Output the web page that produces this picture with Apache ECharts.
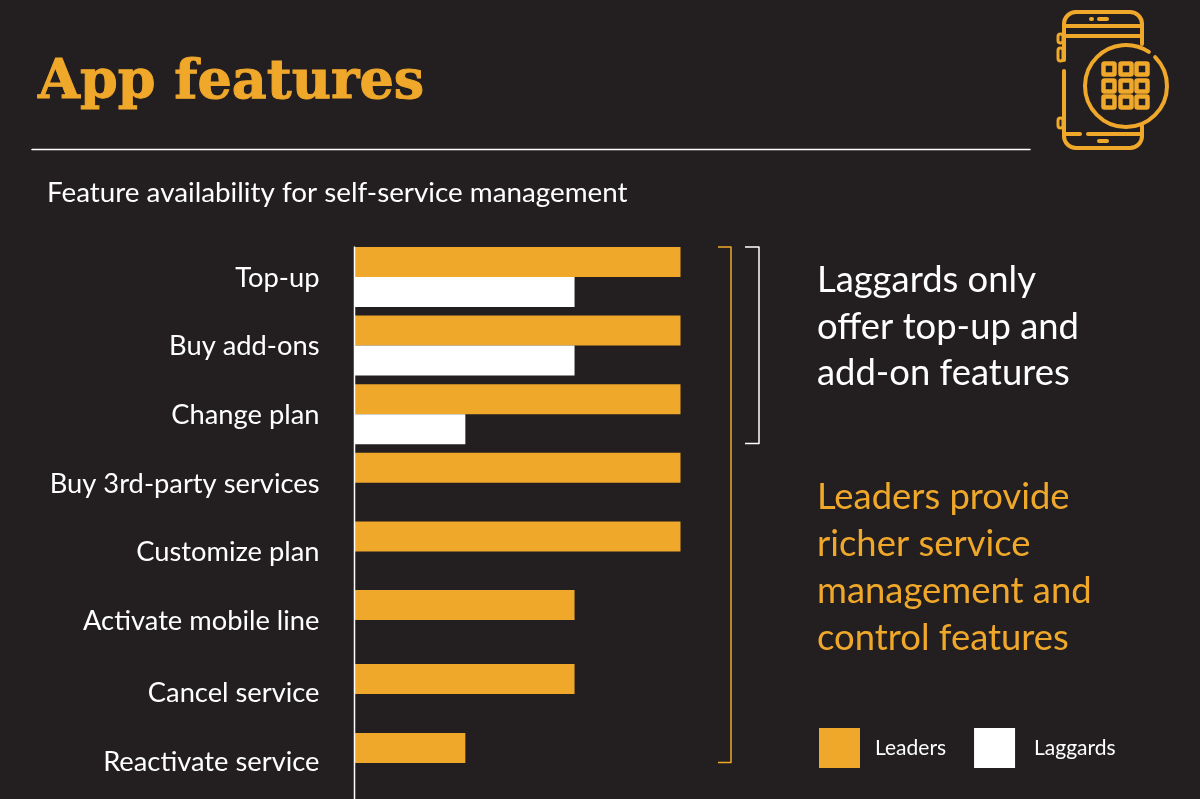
<!DOCTYPE html>
<html><head><meta charset="utf-8">
<style>html,body{margin:0;padding:0;background:#231f20}#c{width:1200px;height:799px}</style>
<script src="https://cdn.jsdelivr.net/npm/echarts@6/dist/echarts.min.js"></script>
</head><body><div id="c"></div>
<script>
// Feature rows split in two groups, as the source spaces the last two rows slightly apart
const categoriesTop = ['Top-up','Buy add-ons','Change plan','Buy 3rd-party services','Customize plan','Activate mobile line'];
const categoriesBottom = ['Cancel service','Reactivate service'];
const leadersTop = [100,100,100,100,100,67.5];
const laggardsTop = [67.5,67.5,34,null,null,null];
const leadersBottom = [67.5,34];
const laggardsBottom = [null,null];

const GOLD='#f0a82b', WHITE='#ffffff', BG='#231f20', FONT='Lato';
const chart=echarts.init(document.getElementById('c'),null,{renderer:'canvas'});

function txt(x,y,t,size,color,extra){return {type:'text',silent:true,style:Object.assign({x,y,text:t,fontFamily:FONT,fontSize:size,fill:color,verticalAlign:'middle'},extra||{})};}
function ln(x1,y1,x2,y2,color,w){return {type:'line',silent:true,z:10,shape:{x1,y1,x2,y2},style:{stroke:color,lineWidth:w||2,lineCap:'round'}};}
function br(points,color,w){return {type:'polyline',silent:true,shape:{points},style:{stroke:color,lineWidth:w,fill:null,lineJoin:'round'}};}
function rr(x,y,w,h,r,lw){return {type:'rect',silent:true,shape:{x,y,width:w,height:h,r},style:{stroke:GOLD,lineWidth:lw||4,fill:null}};}
function arc(cx,cy,r,a,b){return {type:'arc',silent:true,shape:{cx,cy,r,startAngle:a,endAngle:b,clockwise:true},style:{stroke:GOLD,lineWidth:4,fill:null,lineCap:'round'}};}
const P=Math.PI;

const gfx=[
  txt(38,84,'App features',54,GOLD,{fontFamily:'DejaVu Serif',fontWeight:'bold',stroke:GOLD,lineWidth:1}),
  ln(32,149.5,1030,149.5,WHITE,1.5),
  txt(47,193,'Feature availability for self-service management',27.8,WHITE),
  ln(354.5,247,354.5,799,WHITE,1.5),
  br([[718,247],[731,247],[731,762.5],[718,762.5]],GOLD,1.5),
  br([[745,247],[759,247],[759,443.5],[745,443.5]],WHITE,1.5),
  txt(817,280,'Laggards only',36.4,WHITE),
  txt(817,327,'offer top-up and',36.4,WHITE),
  txt(817,373,'add-on features',36.4,WHITE),
  txt(817,497,'Leaders provide',36.4,GOLD),
  txt(817,544,'richer service',36.4,GOLD),
  txt(817,591,'management and',36.4,GOLD),
  txt(817,638,'control features',36.4,GOLD),
  // phone + keypad icon
  ln(1064,24,1064,60,GOLD,4), ln(1064,71,1064,136,GOLD,4),
  ln(1076,12,1130,12,GOLD,4), ln(1076,148,1130,148,GOLD,4),
  ln(1142,24,1142,44,GOLD,4), ln(1142,126,1142,136,GOLD,4),
  arc(1076,24,12,P,1.5*P), arc(1130,24,12,1.5*P,2*P),
  arc(1076,136,12,0.5*P,P), arc(1130,136,12,0,0.5*P),
  ln(1064,26,1140,26,GOLD,4), ln(1064,36,1140,36,GOLD,4),
  ln(1066,134,1080,134,GOLD,4), ln(1088,134,1140,134,GOLD,4),
  ln(1091,19,1092,19,GOLD,4), ln(1099,19,1107,19,GOLD,4), ln(1099,141,1107,141,GOLD,4),
  rr(1058,34,5,9,2.5,3), rr(1058,48,5,13,2.5,3), rr(1058,118,5,10,2.5,3),
  arc(1126,86,41,-0.78,-0.98)
];
[1109,1126,1142].forEach(cx=>[69,86,102].forEach(cy=>gfx.push(rr(cx-5.5,cy-5.5,11,11,1,4.5))));

function yAxis(data,idx,pad){return {type:'category',gridIndex:idx,inverse:true,data,axisLine:{show:false},axisTick:{show:false},splitLine:{show:false},
  axisLabel:{margin:35,formatter:v=>'{t|'+v+'}',rich:{t:{color:WHITE,fontFamily:FONT,fontSize:27.3,lineHeight:30,padding:pad}}}};}
function xAxis(idx){return {type:'value',gridIndex:idx,min:0,max:100,show:false,splitLine:{show:false}};}
function series(name,color,data,idx){return {name,type:'bar',xAxisIndex:idx,yAxisIndex:idx,data,barWidth:30,barGap:0,itemStyle:{color},silent:true,animation:false};}

const legendText=(left,right)=>({color:'#ffffff',fontFamily:FONT,fontSize:21,padding:[0,right,0,left]});
chart.setOption({
  backgroundColor:BG,animation:false,
  textStyle:{fontFamily:FONT},
  grid:[
    {left:354.5,top:242.7,width:326,height:411.6},
    {left:354.5,top:659.5,width:326,height:138}
  ],
  xAxis:[xAxis(0),xAxis(1)],
  yAxis:[yAxis(categoriesTop,0,[2,0,0,0]),yAxis(categoriesBottom,1,[0,0,2,0])],
  legend:{left:819,top:728,padding:0,itemWidth:41,itemHeight:40,itemGap:28,icon:'rect',
    textStyle:legendText(10,14),
    data:[{name:'Leaders',textStyle:legendText(10,14)},{name:'Laggards',textStyle:legendText(14,0)}]},
  series:[
    series('Leaders',GOLD,leadersTop,0),series('Laggards',WHITE,laggardsTop,0),
    series('Leaders',GOLD,leadersBottom,1),series('Laggards',WHITE,laggardsBottom,1)
  ],
  graphic:{elements:gfx}
});
</script></body></html>
